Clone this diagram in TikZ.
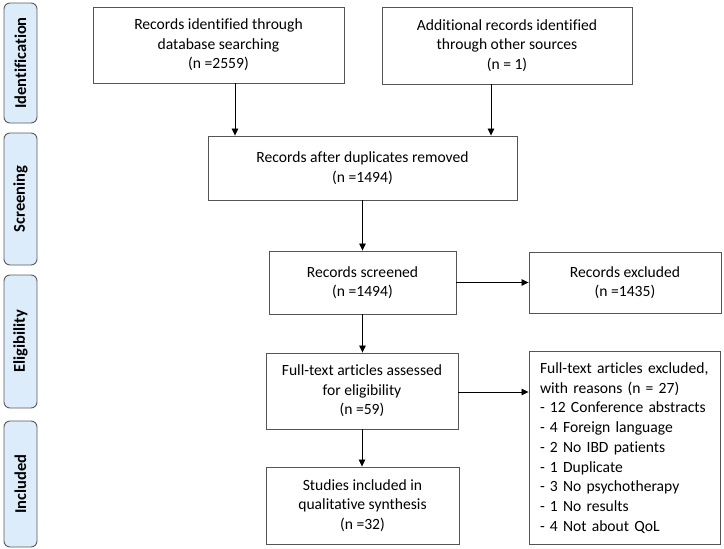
\documentclass[tikz,border=0pt]{standalone}
\usepackage{fontspec}
\setmainfont{Carlito}[Ligatures=NoCommon]
\usetikzlibrary{arrows.meta}
\definecolor{sidefill}{RGB}{221,236,251}
\definecolor{sidedraw}{RGB}{90,90,90}
\definecolor{boxdraw}{RGB}{85,85,85}
\begin{document}
\begin{tikzpicture}[x=1pt,y=-1pt,
  box/.style={draw=boxdraw,line width=0.9pt,fill=white,align=center,inner sep=4pt,
    font=\fontsize{15.6}{19.5}\selectfont},
  sidebox/.style={draw=sidedraw,line width=0.9pt,fill=sidefill,rounded corners=6pt,rotate=90,
    font=\fontsize{16.5}{18}\selectfont\bfseries,minimum height=33pt,inner sep=0pt},
  arr/.style={draw=black,line width=0.8pt,-{Triangle[length=7pt,width=6.5pt]}}]
\useasboundingbox (0,0) rectangle (724,549);
% side labels
\node[sidebox,minimum width=120pt] (sid) at (20.5,63) {Identification};
\node[sidebox,minimum width=132pt] (ssc) at (20.5,199) {Screening};
\node[sidebox,minimum width=133pt] (sel) at (20.5,341.5) {Eligibility};
\node[sidebox,minimum width=126pt] (sin) at (20.5,484) {Included};
% boxes
\node[box,minimum width=251pt,minimum height=76pt] (b1) at (218.5,45)
  {Records identified through\\database searching\\(n =2559)};
\node[box,minimum width=250pt,minimum height=77pt] (b2) at (507,45.5)
  {Additional records identified\\through other sources\\(n = 1)};
\node[box,minimum width=309pt,minimum height=64pt] (dup) at (362.5,168)
  {Records after duplicates removed\\(n =1494)};
\node[box,minimum width=187pt,minimum height=63pt] (scr) at (362.5,282.5)
  {Records screened\\(n =1494)};
\node[box,minimum width=192pt,minimum height=61pt] (exc) at (625,282.5)
  {Records excluded\\(n =1435)};
\node[box,minimum width=192pt,minimum height=76pt] (eli) at (362,391)
  {Full-text articles assessed\\for eligibility\\(n =59)};
\node[box,minimum width=191pt,minimum height=190pt,align=left,text width=169pt,inner sep=11pt,
  font=\fontsize{15.6}{19.7}\selectfont] (fex) at (624.5,448)
  {Full-text articles excluded,\\with reasons (n = 27)\\- 12 Conference abstracts\\- 4 Foreign language\\- 2 No IBD patients\\- 1 Duplicate\\- 3 No psychotherapy\\- 1 No results\\- 4 Not about QoL};
\node[box,minimum width=193pt,minimum height=77pt] (inc) at (362.5,505.5)
  {Studies included in\\qualitative synthesis\\(n =32)};
% arrows
\draw[arr] ([xshift=16.5pt]b1.south) -- ([xshift=16.5pt]b1.south |- dup.north);
\draw[arr] ([xshift=-16pt]b2.south) -- ([xshift=-16pt]b2.south |- dup.north);
\draw[arr] (dup.south) -- (dup.south |- scr.north);
\draw[arr] (scr.south) -- (scr.south |- eli.north);
\draw[arr] (eli.south) -- (eli.south |- inc.north);
\draw[arr] (scr.east) -- (scr.east -| exc.west);
\draw[arr] ([yshift=-1pt]eli.east) -- ([yshift=-1pt]eli.east -| fex.west);
\end{tikzpicture}
\end{document}
